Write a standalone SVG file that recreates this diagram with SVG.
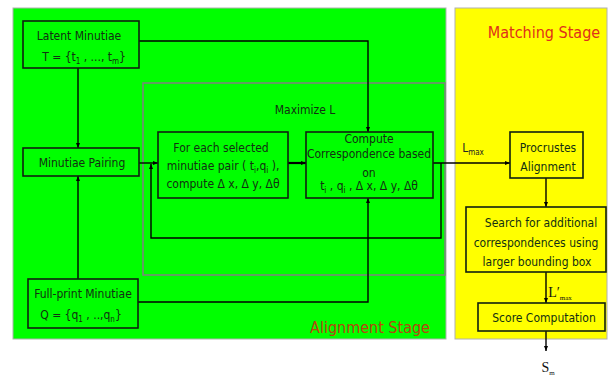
<svg xmlns="http://www.w3.org/2000/svg" width="610" height="376" viewBox="0 0 610 376">
<defs>
<marker id="ah" viewBox="0 0 10 10" refX="10" refY="5" markerWidth="5" markerHeight="5" orient="auto" markerUnits="userSpaceOnUse">
<path d="M0,1 L10,5 L0,9 z" fill="#000"/>
</marker>
<style>
.box{fill:none;stroke:#102010;stroke-width:1.6}
.t{font-family:"DejaVu Sans Condensed","DejaVu Sans",sans-serif;font-size:12px;fill:#123012;text-anchor:middle}
.s{font-size:8px}
.c{fill:none;stroke:#000;stroke-width:1.4;marker-end:url(#ah)}
.serif{font-family:"Liberation Serif",serif;fill:#111}
</style>
</defs>
<rect width="610" height="376" fill="#fff"/>
<g id="alignment-stage">
<rect x="13" y="8" width="433" height="331" fill="#00ff00" stroke="#b0b0b0" stroke-width="1"/>
<text x="370" y="333" class="t" style="font-size:16px;fill:#b8440e">Alignment Stage</text>
</g>
<g id="matching-stage">
<rect x="455" y="8" width="152" height="331" fill="#ffff00" stroke="#b0b0b0" stroke-width="1"/>
<text x="544" y="38" class="t" style="font-size:16px;fill:#e0301a">Matching Stage</text>
</g>
<g id="maximize-l">
<rect x="143" y="83" width="302" height="192" fill="none" stroke="#808080" stroke-width="1.5"/>
<text x="305" y="114" class="t">Maximize L</text>
</g>
<g id="connectors">
<polyline class="c" points="139,41 368,41 368,132"/>
<polyline class="c" points="78,68 78,148"/>
<polyline class="c" points="78,279 78,176"/>
<polyline class="c" points="138,302 368,302 368,198"/>
<polyline class="c" points="139,163 158,163"/>
<polyline class="c" points="288,163 306,163" style="stroke-width:2.2"/>
<polyline class="c" points="433,163 510,163"/>
<polyline class="c" points="441,163 441,238 151,238 151,164"/>
<polyline class="c" points="546,178 546,207"/>
<polyline class="c" points="546,272 546,303"/>
<polyline class="c" points="546,331 546,351"/>
<text x="473" y="152" class="t" style="fill:#222">L<tspan class="s" dy="3">max</tspan></text>
<text x="560" y="297" class="serif" style="font-size:14px;text-anchor:middle">L′<tspan style="font-size:7px" dy="3">max</tspan></text>
<text x="548" y="372" class="serif" style="font-size:14px;text-anchor:middle">S<tspan style="font-size:7px" dy="3">m</tspan></text>
</g>
<g id="latent">
<rect class="box" x="23" y="21" width="116" height="47"/>
<text x="79" y="40" class="t">Latent Minutiae</text>
<text x="84" y="61" class="t">T = {t<tspan class="s" dy="3">1</tspan><tspan dy="-3"> , ..., t</tspan><tspan class="s" dy="3">m</tspan><tspan dy="-3">}</tspan></text>
</g>
<g id="pairing">
<rect class="box" x="23" y="148" width="116" height="28"/>
<text x="82" y="167" class="t">Minutiae Pairing</text>
</g>
<g id="fullprint">
<rect class="box" x="28" y="279" width="110" height="49"/>
<text x="83" y="298" class="t">Full-print Minutiae</text>
<text x="81" y="319" class="t">Q = {q<tspan class="s" dy="3">1</tspan><tspan dy="-3"> , ..,q</tspan><tspan class="s" dy="3">n</tspan><tspan dy="-3">}</tspan></text>
</g>
<g id="foreach">
<rect class="box" x="158" y="132" width="130" height="66"/>
<text x="221" y="152" class="t">For each selected</text>
<text x="223" y="170" class="t">minutiae pair ( t<tspan class="s" dy="3">i</tspan><tspan dy="-3">,q</tspan><tspan class="s" dy="3">i</tspan><tspan dy="-3"> ),</tspan></text>
<text x="223" y="188" class="t">compute Δ x, Δ y, Δθ</text>
</g>
<g id="compute">
<rect class="box" x="306" y="132" width="127" height="66"/>
<text x="369" y="143" class="t">Compute</text>
<text x="369" y="158" class="t">Correspondence based</text>
<text x="369" y="177" class="t">on</text>
<text x="369" y="190" class="t">t<tspan class="s" dy="3">i</tspan><tspan dy="-3"> , q</tspan><tspan class="s" dy="3">i</tspan><tspan dy="-3"> , Δ x, Δ y, Δθ</tspan></text>
</g>
<g id="procrustes">
<rect class="box" x="510" y="132" width="73" height="46"/>
<text x="548" y="152" class="t">Procrustes</text>
<text x="548" y="171" class="t">Alignment</text>
</g>
<g id="search">
<rect class="box" x="466" y="207" width="140" height="65"/>
<text x="541" y="227" class="t">Search for additional</text>
<text x="536" y="247" class="t">correspondences using</text>
<text x="537" y="266" class="t">larger bounding box</text>
</g>
<g id="score">
<rect class="box" x="478" y="303" width="127" height="28"/>
<text x="544" y="322" class="t">Score Computation</text>
</g>
</svg>
